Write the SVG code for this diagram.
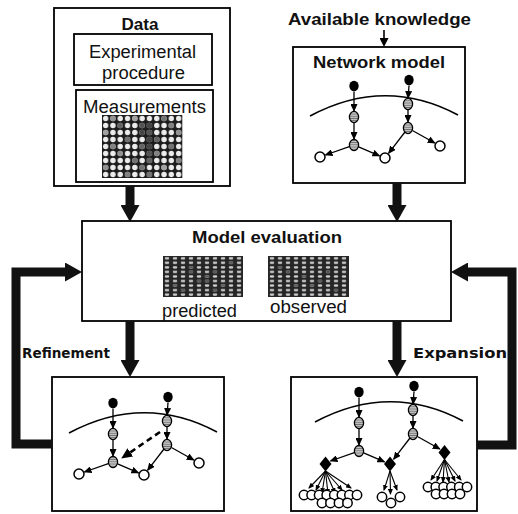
<svg xmlns="http://www.w3.org/2000/svg" xmlns:xlink="http://www.w3.org/1999/xlink" width="518" height="514" viewBox="0 0 518 514">
<style>
.box{fill:#fff;stroke:#000;stroke-width:1.8}
.title{font-family:"Liberation Sans",Arial,sans-serif;font-weight:bold;font-size:17px;fill:#111}
.lbl{font-family:"Liberation Sans",Arial,sans-serif;font-size:18px;fill:#111}
.side{font-family:"DejaVu Sans",sans-serif;font-weight:bold;font-size:14px;fill:#111}
.edge{fill:none;stroke:#000;stroke-width:1.3;marker-end:url(#ah)}
.fan{fill:none;stroke:#000;stroke-width:1.1;marker-end:url(#ahs)}
.thick{fill:none;stroke:#111;stroke-width:9;marker-end:url(#big)}
.blk{fill:#000}
.gry{fill:url(#hatch);stroke:#000;stroke-width:1.3}
.opn{fill:#fff;stroke:#000;stroke-width:1.5}
.dia{fill:#000}
</style>
<defs>
<marker id="ah" markerUnits="userSpaceOnUse" markerWidth="8" markerHeight="7" refX="7" refY="3.5" orient="auto"><path d="M0,0 L8,3.5 L0,7 z" fill="#000"/></marker>
<marker id="ahs" markerUnits="userSpaceOnUse" markerWidth="6" markerHeight="5" refX="5" refY="2.5" orient="auto"><path d="M0,0 L6,2.5 L0,5 z" fill="#000"/></marker>
<marker id="ahm" markerUnits="userSpaceOnUse" markerWidth="9" markerHeight="9" refX="2" refY="4.5" orient="auto"><path d="M0,0 L9,4.5 L0,9 z" fill="#000"/></marker>
<marker id="ahd" markerUnits="userSpaceOnUse" markerWidth="11" markerHeight="10" refX="4" refY="5" orient="auto"><path d="M0,0 L11,5 L0,10 z" fill="#000"/></marker>
<marker id="big" markerUnits="userSpaceOnUse" markerWidth="17" markerHeight="19" refX="7" refY="9.5" orient="auto"><path d="M0,0 L17,9.5 L0,19 z" fill="#111"/></marker>
<pattern id="hatch" width="4" height="2.2" patternUnits="userSpaceOnUse"><rect width="4" height="2.2" fill="#c4c4c4"/><rect y="1.4" width="4" height="0.8" fill="#6a6a6a"/></pattern>
<pattern id="spots" width="7.3" height="7" patternUnits="userSpaceOnUse"><rect width="7.3" height="7" fill="#1c1c1c"/><circle cx="3.65" cy="3.5" r="2.7" fill="#ececec"/></pattern>
<pattern id="mesh" width="8" height="4.55" patternUnits="userSpaceOnUse"><rect width="8" height="4.55" fill="#262626"/><rect x="1.8" y="1.1" width="4.4" height="2.2" rx="1" fill="#d0d0d0"/></pattern>
<g id="core">
<path d="M310,116 Q385,76 458,115" fill="none" stroke="#000" stroke-width="1.6"/>
<path class="edge" d="M354,91.5 V111"/>
<path class="edge" d="M354,123 V139"/>
<path class="edge" d="M349.3,146.7 L325.5,155"/>
<path class="edge" d="M358.6,146.9 L379.5,155.8"/>
<path class="edge" d="M409,85.5 L408.1,98"/>
<path class="edge" d="M408,110 V122"/>
<path class="edge" d="M405,132 L388.7,153.2"/>
<path class="edge" d="M412.4,130.5 L434.8,143"/>
<ellipse class="blk" cx="354" cy="86" rx="4.7" ry="5.2"/>
<ellipse class="blk" cx="409" cy="80" rx="4.7" ry="5.2"/>
<ellipse class="gry" cx="354" cy="117" rx="4.6" ry="5.6"/>
<ellipse class="gry" cx="354" cy="145" rx="4.6" ry="5.6"/>
<ellipse class="gry" cx="408" cy="104" rx="4.6" ry="5.6"/>
<ellipse class="gry" cx="408" cy="128" rx="4.6" ry="5.6"/>
</g>
<g id="leaves">
<circle class="opn" cx="320" cy="157" r="5"/>
<circle class="opn" cx="385" cy="158" r="5"/>
<circle class="opn" cx="440" cy="146" r="5"/>
</g>
</defs>

<g id="data">
<rect class="box" x="54" y="8" width="176" height="178"/>
<text class="title" x="140" y="30" text-anchor="middle" textLength="37" lengthAdjust="spacingAndGlyphs">Data</text>
<rect class="box" x="74" y="34" width="138" height="51" stroke-width="1.5"/>
<text class="lbl" x="89" y="58" textLength="107" lengthAdjust="spacingAndGlyphs">Experimental</text>
<text class="lbl" x="102" y="79" textLength="83" lengthAdjust="spacingAndGlyphs">procedure</text>
<rect class="box" x="76" y="90" width="137" height="92" stroke-width="1.5"/>
<text class="lbl" x="83" y="113" textLength="123" lengthAdjust="spacingAndGlyphs">Measurements</text>
<g transform="translate(102,115)">
<rect width="80.3" height="63" fill="url(#spots)"/>
</g>
<g fill-opacity="0.9">
<circle cx="112.95" cy="118.5" r="2.7" fill="#888"/><circle cx="134.85" cy="118.5" r="2.7" fill="#999"/><circle cx="164.05" cy="118.5" r="2.7" fill="#666"/>
<circle cx="120.25" cy="125.5" r="2.7" fill="#555"/><circle cx="142.15" cy="125.5" r="2.7" fill="#444"/><circle cx="149.45" cy="125.5" r="2.7" fill="#333"/><circle cx="171.35" cy="125.5" r="2.7" fill="#777"/>
<circle cx="105.65" cy="132.5" r="2.7" fill="#999"/><circle cx="142.15" cy="132.5" r="2.7" fill="#333"/><circle cx="149.45" cy="132.5" r="2.7" fill="#444"/><circle cx="178.65" cy="132.5" r="2.7" fill="#888"/>
<circle cx="127.55" cy="139.5" r="2.7" fill="#666"/><circle cx="149.45" cy="139.5" r="2.7" fill="#333"/><circle cx="156.75" cy="139.5" r="2.7" fill="#555"/>
<circle cx="112.95" cy="146.5" r="2.7" fill="#777"/><circle cx="142.15" cy="146.5" r="2.7" fill="#555"/><circle cx="149.45" cy="146.5" r="2.7" fill="#333"/><circle cx="171.35" cy="146.5" r="2.7" fill="#666"/>
<circle cx="120.25" cy="153.5" r="2.7" fill="#888"/><circle cx="149.45" cy="153.5" r="2.7" fill="#444"/><circle cx="156.75" cy="153.5" r="2.7" fill="#777"/>
<circle cx="134.85" cy="160.5" r="2.7" fill="#666"/><circle cx="149.45" cy="160.5" r="2.7" fill="#555"/><circle cx="178.65" cy="160.5" r="2.7" fill="#777"/>
<circle cx="105.65" cy="167.5" r="2.7" fill="#888"/><circle cx="142.15" cy="167.5" r="2.7" fill="#666"/><circle cx="164.05" cy="167.5" r="2.7" fill="#999"/>
<circle cx="127.55" cy="174.5" r="2.7" fill="#777"/><circle cx="149.45" cy="174.5" r="2.7" fill="#666"/>
</g>
</g>

<g id="available-knowledge">
<text class="title" x="288" y="25" textLength="183" lengthAdjust="spacingAndGlyphs">Available knowledge</text>
</g>

<g id="network-model">
<rect class="box" x="293" y="47" width="172" height="136"/>
<text class="title" x="313" y="68" textLength="132" lengthAdjust="spacingAndGlyphs">Network model</text>
<use xlink:href="#core"/>
<use xlink:href="#leaves"/>
</g>

<g id="model-evaluation">
<rect class="box" x="82" y="221" width="369" height="100"/>
<text class="title" x="192" y="243" textLength="150" lengthAdjust="spacingAndGlyphs">Model evaluation</text>
<g transform="translate(163,256)">
<rect width="80" height="41" fill="url(#mesh)"/>
<g fill="#5a5a5a">
<rect x="25.8" y="10.2" width="4.4" height="2.2"/><rect x="25.8" y="14.75" width="4.4" height="2.2"/><rect x="33.8" y="23.85" width="4.4" height="2.2"/><rect x="41.8" y="19.3" width="4.4" height="2.2"/><rect x="41.8" y="23.85" width="4.4" height="2.2"/><rect x="49.8" y="14.75" width="4.4" height="2.2"/><rect x="57.8" y="28.4" width="4.4" height="2.2"/><rect x="9.8" y="28.4" width="4.4" height="2.2"/><rect x="17.8" y="32.95" width="4.4" height="2.2"/><rect x="65.8" y="5.65" width="4.4" height="2.2"/><rect x="49.8" y="32.95" width="4.4" height="2.2"/>
</g>
</g>
<g transform="translate(268,256)">
<rect width="81" height="41" fill="url(#mesh)"/>
<g fill="#5a5a5a">
<rect x="17.8" y="14.75" width="4.4" height="2.2"/><rect x="33.8" y="19.3" width="4.4" height="2.2"/><rect x="41.8" y="28.4" width="4.4" height="2.2"/><rect x="49.8" y="23.85" width="4.4" height="2.2"/><rect x="57.8" y="14.75" width="4.4" height="2.2"/><rect x="65.8" y="32.95" width="4.4" height="2.2"/><rect x="25.8" y="28.4" width="4.4" height="2.2"/><rect x="9.8" y="10.2" width="4.4" height="2.2"/>
</g>
</g>
<text class="lbl" x="162" y="317" textLength="75" lengthAdjust="spacingAndGlyphs">predicted</text>
<text class="lbl" x="270" y="313" textLength="77" lengthAdjust="spacingAndGlyphs">observed</text>
</g>

<g id="refined-model">
<rect class="box" x="52" y="377" width="172" height="134"/>
<g transform="translate(-241,317)">
<use xlink:href="#core"/>
<use xlink:href="#leaves"/>
</g>
<path d="M160,432 L127,454.6" fill="none" stroke="#000" stroke-width="2.6" stroke-dasharray="6,4" marker-end="url(#ahd)"/>
</g>

<g id="expanded-model">
<rect class="box" x="291" y="377" width="186" height="134"/>
<g transform="translate(5,306)">
<use xlink:href="#core"/>
</g>
<path class="fan" d="M325.5,471 L309,488"/>
<path class="fan" d="M325.5,471 L316,490"/>
<path class="fan" d="M325.5,471 L322,493"/>
<path class="fan" d="M325.5,471 L328,494"/>
<path class="fan" d="M325.5,471 L335,493"/>
<path class="fan" d="M325.5,471 L342,490"/>
<path class="fan" d="M325.5,471 L351,488"/>
<path class="fan" d="M390,471 L384,490"/>
<path class="fan" d="M390,471 L390.5,494"/>
<path class="fan" d="M390,471 L397,490"/>
<path class="fan" d="M444.5,459.5 L431,480"/>
<path class="fan" d="M444.5,459.5 L437,481"/>
<path class="fan" d="M444.5,459.5 L443,482"/>
<path class="fan" d="M444.5,459.5 L449,482"/>
<path class="fan" d="M444.5,459.5 L455,481"/>
<path class="fan" d="M444.5,459.5 L461,480"/>
<path class="dia" d="M325.5,456.5 L331.5,464 L325.5,471.5 L319.5,464 z"/>
<path class="dia" d="M390,456.5 L396,464 L390,471.5 L384,464 z"/>
<path class="dia" d="M444.5,445 L450.5,452.5 L444.5,460 L438.5,452.5 z"/>
<g>
<circle class="opn" cx="304" cy="495" r="4.7"/><circle class="opn" cx="311.6" cy="495" r="4.7"/><circle class="opn" cx="319.1" cy="495" r="4.7"/><circle class="opn" cx="326.7" cy="495" r="4.7"/><circle class="opn" cx="334.3" cy="495" r="4.7"/><circle class="opn" cx="341.9" cy="495" r="4.7"/><circle class="opn" cx="349.4" cy="495" r="4.7"/><circle class="opn" cx="357" cy="495" r="4.7"/>
<circle class="opn" cx="322" cy="503" r="4.7"/><circle class="opn" cx="330.5" cy="503" r="4.7"/><circle class="opn" cx="339" cy="503" r="4.7"/><circle class="opn" cx="347.5" cy="503" r="4.7"/>
<circle class="opn" cx="382" cy="497" r="4.7"/><circle class="opn" cx="400" cy="497" r="4.7"/><circle class="opn" cx="391" cy="503" r="4.7"/>
<circle class="opn" cx="428" cy="487" r="4.7"/><circle class="opn" cx="435.8" cy="487" r="4.7"/><circle class="opn" cx="443.6" cy="487" r="4.7"/><circle class="opn" cx="451.4" cy="487" r="4.7"/><circle class="opn" cx="459.2" cy="487" r="4.7"/><circle class="opn" cx="467" cy="487" r="4.7"/>
<circle class="opn" cx="436" cy="494" r="4.7"/><circle class="opn" cx="444" cy="494" r="4.7"/><circle class="opn" cx="452" cy="494" r="4.7"/><circle class="opn" cx="460" cy="494" r="4.7"/>
</g>
</g>

<g id="connectors">
<path d="M384,30 V40" fill="none" stroke="#000" stroke-width="1.6" marker-end="url(#ahm)"/>
<path class="thick" d="M130,186 V212"/>
<path class="thick" d="M397,183 V212"/>
<path class="thick" d="M130,321 V367"/>
<path class="thick" d="M397,321 V367"/>
<path class="thick" d="M52,444 H16 V272 H72"/>
<path class="thick" d="M477,445 H512 V272 H461"/>
<text class="side" x="22" y="358" textLength="88" lengthAdjust="spacingAndGlyphs">Refinement</text>
<text class="side" x="413" y="358" textLength="94" lengthAdjust="spacingAndGlyphs">Expansion</text>
</g>
</svg>
